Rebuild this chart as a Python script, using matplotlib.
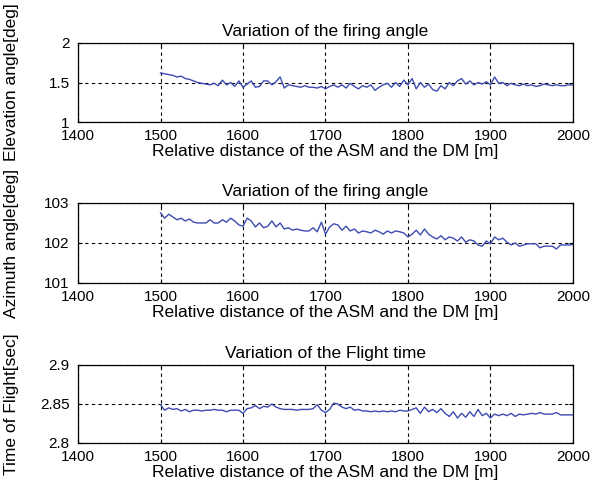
import numpy as np
import matplotlib.pyplot as plt

plt.rcParams['font.family'] = ['Liberation Sans', 'DejaVu Sans']

# relative distance [m], one sample every 5 m
distance = np.arange(1500, 2001, 5)

elevation = [1.62, 1.61, 1.60, 1.59, 1.57, 1.58, 1.55, 1.54, 1.52, 1.50,
             1.49, 1.48, 1.47, 1.49, 1.46, 1.53, 1.47, 1.50, 1.45, 1.52,
             1.44, 1.48, 1.52, 1.44, 1.45, 1.52, 1.52, 1.47, 1.51, 1.57,
             1.43, 1.47, 1.46, 1.45, 1.44, 1.46, 1.44, 1.44, 1.43, 1.45,
             1.42, 1.45, 1.47, 1.44, 1.47, 1.43, 1.49, 1.45, 1.42, 1.46,
             1.44, 1.47, 1.40, 1.44, 1.47, 1.49, 1.44, 1.50, 1.45, 1.53,
             1.47, 1.55, 1.42, 1.50, 1.44, 1.48, 1.41, 1.39, 1.46, 1.42,
             1.50, 1.46, 1.52, 1.55, 1.48, 1.52, 1.47, 1.50, 1.48, 1.51,
             1.47, 1.57, 1.49, 1.50, 1.46, 1.49, 1.47, 1.46, 1.48, 1.46,
             1.47, 1.45, 1.46, 1.48, 1.47, 1.46, 1.47, 1.46, 1.46, 1.47,
             1.47]

azimuth = [102.75, 102.62, 102.72, 102.65, 102.58, 102.62, 102.55, 102.60, 102.52, 102.50,
           102.50, 102.50, 102.58, 102.50, 102.50, 102.58, 102.52, 102.62, 102.55, 102.45,
           102.42, 102.62, 102.55, 102.40, 102.50, 102.38, 102.42, 102.55, 102.40, 102.50,
           102.35, 102.38, 102.32, 102.35, 102.32, 102.30, 102.30, 102.38, 102.28, 102.52,
           102.22, 102.40, 102.48, 102.45, 102.32, 102.42, 102.30, 102.35, 102.25, 102.30,
           102.28, 102.25, 102.32, 102.28, 102.22, 102.30, 102.25, 102.30, 102.28, 102.25,
           102.15, 102.22, 102.32, 102.20, 102.35, 102.22, 102.15, 102.10, 102.18, 102.08,
           102.15, 102.12, 102.05, 102.15, 102.02, 102.08, 102.05, 101.95, 101.92, 102.05,
           101.98, 102.15, 102.08, 102.12, 102.02, 101.95, 102.00, 101.92, 101.95, 101.98,
           101.98, 101.98, 101.88, 101.92, 101.92, 101.92, 101.85, 101.95, 101.95, 101.95,
           101.96]

flight_time = [2.849, 2.842, 2.845, 2.843, 2.844, 2.841, 2.843, 2.840, 2.842, 2.842,
               2.841, 2.842, 2.842, 2.843, 2.842, 2.842, 2.840, 2.842, 2.842, 2.842,
               2.838, 2.844, 2.845, 2.848, 2.844, 2.847, 2.846, 2.850, 2.846, 2.844,
               2.843, 2.843, 2.843, 2.842, 2.843, 2.843, 2.843, 2.844, 2.849, 2.842,
               2.839, 2.843, 2.851, 2.850, 2.846, 2.844, 2.846, 2.842, 2.843, 2.841,
               2.841, 2.840, 2.841, 2.840, 2.841, 2.840, 2.841, 2.840, 2.842, 2.841,
               2.841, 2.843, 2.845, 2.838, 2.846, 2.840, 2.843, 2.839, 2.844, 2.838,
               2.834, 2.840, 2.832, 2.838, 2.833, 2.840, 2.834, 2.843, 2.835, 2.838,
               2.832, 2.837, 2.835, 2.837, 2.835, 2.838, 2.834, 2.837, 2.836, 2.837,
               2.838, 2.837, 2.839, 2.837, 2.837, 2.837, 2.839, 2.836, 2.836, 2.836,
               2.836]

titles = ['Variation of the firing angle', 'Variation of the firing angle',
          'Variation of the Flight time']
ylabels = ['Elevation angle[deg]', 'Azimuth angle[deg]', 'Time of Flight[sec]']
yticks = [[1, 1.5, 2], [101, 102, 103], [2.8, 2.85, 2.9]]
yticklabels = [['1', '1.5', '2'], ['101', '102', '103'], ['2.8', '2.85', '2.9']]
xticks = [1400, 1500, 1600, 1700, 1800, 1900, 2000]
xlabel = 'Relative distance of the ASM and the DM [m]'

fig = plt.figure(figsize=(6.05, 4.97), dpi=100)
# axes boxes in figure fractions (left, bottom, width, height)
boxes = [(0.129, 0.7545, 0.818, 0.159),
         (0.129, 0.4306, 0.818, 0.161),
         (0.129, 0.1087, 0.818, 0.157)]

series = [elevation, azimuth, flight_time]
for i in range(3):
    ax = fig.add_axes(boxes[i])
    ax.plot(distance, series[i], color='#3d4bb2', linewidth=1.0)
    ax.set_xlim(1400, 2000)
    ax.set_ylim(yticks[i][0], yticks[i][-1])
    ax.set_xticks(xticks)
    ax.set_yticks(yticks[i])
    ax.set_yticklabels(yticklabels[i])
    ax.grid(True, color='black', linestyle=(0, (3, 3)), linewidth=0.8)
    ax.tick_params(direction='in', top=True, right=True, labelsize=11, length=3)
    ax.tick_params(axis='x', pad=5)
    ax.tick_params(axis='y', pad=6)
    for s in ax.spines.values():
        s.set_linewidth(0.9)
    ax.set_title(titles[i], fontsize=12.5, pad=5)
    ax.set_xlabel(xlabel, fontsize=12.5, labelpad=1)
    ax.set_ylabel(ylabels[i], fontsize=12.5)
    ax.yaxis.set_label_coords(-0.119, 0.5)

fig.savefig('out.png', dpi=100)
